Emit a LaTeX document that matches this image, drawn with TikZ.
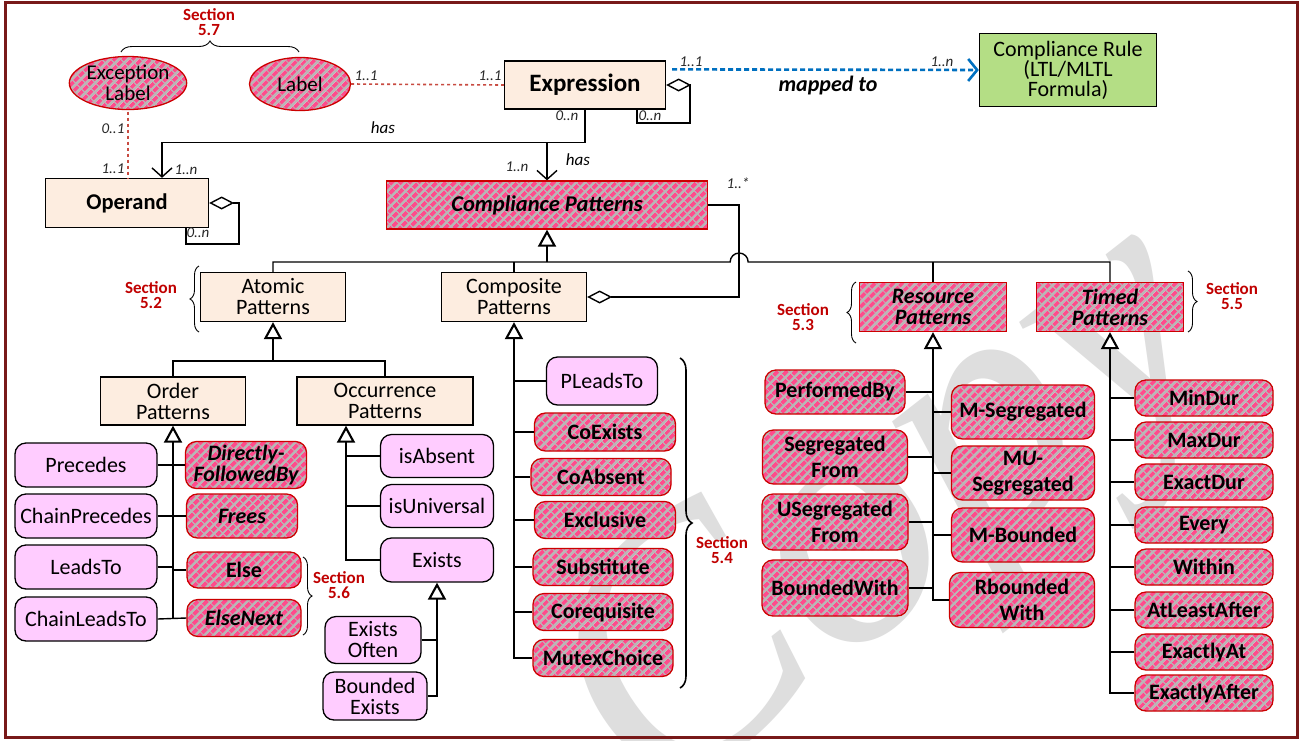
\documentclass[tikz,border=0pt]{standalone}
\usepackage{fontspec}
\setmainfont{Carlito}
\newfontfamily\wmfont{Liberation Serif}
\usetikzlibrary{arrows.meta,patterns.meta,decorations.pathreplacing,shapes.geometric,calc}
\definecolor{peach}{RGB}{253,237,224}
\definecolor{lav}{RGB}{255,204,255}
\definecolor{rulegreen}{RGB}{180,222,133}
\definecolor{spink}{RGB}{255,75,140}
\definecolor{sgray}{RGB}{185,182,182}
\definecolor{pred}{RGB}{204,0,0}
\definecolor{secred}{RGB}{192,0,0}
\definecolor{framec}{RGB}{120,25,25}
\definecolor{dred}{RGB}{200,75,65}
\definecolor{mblue}{RGB}{0,112,192}
\tikzset{
  wh/.style 2 args={minimum width=#1pt,minimum height=#2pt},
  base/.style={inner sep=0pt, align=center, line width=1.3pt},
  peachbox/.style={base, draw=black, fill=peach, font=\fontsize{22}{21}\selectfont},
  lavbox/.style={base, draw=black, fill=lav, rounded corners=11pt, font=\fontsize{22}{21}\selectfont},
  striped/.style={preaction={fill=sgray}, pattern={Lines[angle=45,distance=6.5pt,line width=4.1pt]}, pattern color=spink, draw=pred},
  patbox/.style={base, striped, rounded corners=11pt, font=\bfseries\fontsize{22}{21}\selectfont},
  patboxw/.style={base, striped, rounded corners=11pt, font=\bfseries\fontsize{22}{26}\selectfont},
  bitl/.style={font=\bfseries\itshape\fontsize{22}{21}\selectfont},
  sect/.style={text=secred, font=\bfseries\fontsize{17}{15}\selectfont, align=center, inner sep=0pt},
  mult/.style={font=\itshape\fontsize{15}{15}\selectfont, inner sep=0pt, text=black!85},
  haslbl/.style={font=\itshape\fontsize{17}{17}\selectfont, inner sep=0pt},
  conn/.style={line width=1.4pt},
  trunk/.style={line width=2.1pt},
  gen/.style={{Triangle[length=17pt,width=18pt,fill=white]}-},
  agg/.style={{Diamond[length=25pt,width=13pt,fill=white]}-},
  assoc/.style={-{Straight Barb[length=9pt,width=20pt]}},
  reddash/.style={draw=dred, line width=1.6pt, dash pattern=on 3pt off 3pt},
  bluedash/.style={draw=mblue, line width=2.6pt, dash pattern=on 5pt off 3pt},
  brc/.style={decorate, decoration={brace, amplitude=#1}, line width=0.9pt},
}
\begin{document}
\begin{tikzpicture}[x=1pt,y=-1pt]
\fill[white] (0,0) rectangle (1307,740);
\useasboundingbox (0,0) rectangle (1307,740);
% watermark
\node[rotate=38, text=black!13, font=\wmfont\itshape\fontsize{350}{350}\selectfont, inner sep=0pt] (wm) at (895,525) {Copy};
\draw[line width=3pt, draw=framec] (5,2.5) rectangle (1297.5,737.5);

% ---- top nodes
\node[ellipse, base, striped, wh={110}{53}, font=\fontsize{21}{21}\selectfont] (exc) at (128,83) {Exception\\Label};
\node[ellipse, base, striped, wh={101}{53}, font=\fontsize{21}{21}\selectfont] (lab) at (300,84) {Label};
\node[peachbox, wh={161}{48}, font=\bfseries\fontsize{25}{25}\selectfont] (expr) at (585,85) {Expression};
\node[base, draw=black, fill=rulegreen, wh={177}{73}, font=\fontsize{22}{20}\selectfont] (rule) at (1068,70) {Compliance Rule\\(LTL/MLTL\\Formula)};
\node[peachbox, wh={163}{49}, font=\bfseries\fontsize{22.5}{22}\selectfont] (operand) at (127,203) {Operand};
\node[base, striped, wh={321}{48}, font=\bfseries\itshape\fontsize{22.5}{22}\selectfont] (cp) at (547,205) {Compliance Patterns};

% ---- level 2
\node[peachbox, wh={145}{49}] (atomic) at (273,297) {Atomic\\Patterns};
\node[peachbox, wh={145}{49}] (composite) at (514,297) {Composite\\Patterns};
\node[base, striped, bitl, wh={147}{49}] (resource) at (933,307) {Resource\\Patterns};
\node[base, striped, bitl, wh={147}{49}] (timed) at (1110,307) {Timed\\Patterns};

% ---- level 3
\node[peachbox, wh={145}{48}] (order) at (173,401) {Order\\Patterns};
\node[peachbox, wh={176}{48}] (occur) at (385,401) {Occurrence\\Patterns};

% ---- order leaves
\node[lavbox, wh={142}{44}] (prec) at (86,465) {Precedes};
\node[lavbox, wh={142}{44}] (cprec) at (86,516) {ChainPrecedes};
\node[lavbox, wh={142}{44}] (leads) at (86,567) {LeadsTo};
\node[lavbox, wh={142}{44}] (cleads) at (86,619) {ChainLeadsTo};
\node[patbox, bitl, wh={121}{47}] (dfb) at (246,465) {Directly-\\FollowedBy};
\node[patbox, bitl, wh={111}{44}] (frees) at (242,516) {Frees};
\node[patbox, wh={114}{36}] (else) at (244,570) {Else};
\node[patbox, bitl, wh={114}{37}] (elsenext) at (244,618) {ElseNext};

% ---- occurrence leaves
\node[lavbox, wh={113}{43}] (isabs) at (437,456) {isAbsent};
\node[lavbox, wh={113}{43}] (isuni) at (437,506) {isUniversal};
\node[lavbox, wh={113}{44}] (exists) at (437,560) {Exists};
\node[lavbox, wh={96}{47}] (eoften) at (373,640) {Exists\\Often};
\node[lavbox, wh={104}{48}] (bexists) at (375,696) {Bounded\\Exists};

% ---- composite leaves
\node[lavbox, wh={111}{48}] (pleads) at (602,381) {PLeadsTo};
\node[patbox, wh={141}{38}] (coex) at (605,432) {CoExists};
\node[patbox, wh={140}{37}] (coabs) at (601,477) {CoAbsent};
\node[patbox, wh={141}{37}] (excl) at (605,520) {Exclusive};
\node[patbox, wh={140}{37}] (subst) at (603,567) {Substitute};
\node[patbox, wh={140}{37}] (coreq) at (603,612) {Corequisite};
\node[patbox, wh={140}{37}] (mutex) at (603,658) {MutexChoice};

% ---- resource leaves
\node[patbox, wh={140}{44}] (perf) at (835,392) {PerformedBy};
\node[patboxw, wh={145}{54}] (segf) at (835,457) {Segregated\\From};
\node[patboxw, wh={146}{56}] (usegf) at (835,522) {USegregated\\From};
\node[patboxw, wh={146}{56}] (bwith) at (835,588) {BoundedWith};
\node[patboxw, wh={143}{54}] (mseg) at (1023,412) {M-Segregated};
\node[patboxw, wh={143}{54}] (museg) at (1023,473) {M\textit{U}-\\Segregated};
\node[patboxw, wh={143}{54}] (mbound) at (1023,535) {M-Bounded};
\node[patboxw, wh={145}{55}] (rbound) at (1022,600) {Rbounded\\With};

% ---- timed leaves
\node[patbox, wh={138}{36}] (mindur) at (1204,398) {MinDur};
\node[patbox, wh={138}{36}] (maxdur) at (1204,440) {MaxDur};
\node[patbox, wh={138}{36}] (exdur) at (1204,482) {ExactDur};
\node[patbox, wh={138}{36}] (every) at (1204,525) {Every};
\node[patbox, wh={138}{36}] (within) at (1204,567) {Within};
\node[patbox, wh={138}{36}] (atleast) at (1204,610) {AtLeastAfter};
\node[patbox, wh={138}{36}] (exat) at (1204,652) {ExactlyAt};
\node[patbox, wh={138}{36}] (exafter) at (1204,693) {ExactlyAfter};

% ---- section labels
\node[sect] (s57) at (209,22) {Section\\5.7};
\node[sect] (s52) at (151,295) {Section\\5.2};
\node[sect] (s56) at (339,585) {Section\\5.6};
\node[sect] (s54) at (722,550) {Section\\5.4};
\node[sect] (s53) at (803,317) {Section\\5.3};
\node[sect] (s55) at (1232,296) {Section\\5.5};

% ---- braces
\draw[brc=11pt] (121,52) -- (299,52);
\draw[brc=9pt] (199,332) -- (199,266);
\draw[brc=9pt] (303,557) -- (303,635);
\draw[brc=12pt, line width=1.6pt] (680,358) -- (680,688);
\draw[brc=9pt] (856,343) -- (856,282);
\draw[brc=9pt] (1188,271) -- (1188,332);

% ---- coordinates
\coordinate (busy) at (0,262);
\coordinate (lvl3) at (0,361);
\coordinate (hasj) at ($(expr.south)+(0,33)$);
\coordinate (cpr) at ($(cp.east)+(31,0)$);
\coordinate (occT) at ($(occur.south)+(-39,0)$);

% ---- top connectors
\draw[reddash] (lab.east) -- (expr.west);
\draw[reddash] (exc.south) -- (exc.south |- operand.north);
\draw[bluedash, -{Straight Barb[length=9pt,width=22pt]}] ($(expr.north east)+(6,9)$) -- (rule.west);
\draw[conn, assoc] (expr.south) -- (hasj) -| ($(operand.north)+(35,0)$);
\draw[conn, assoc] (hasj -| cp.north) -- (cp.north);
\draw[conn, agg] (expr.east) -- ++(24,0) -- ++(0,38) -| ($(expr.south)+(52,0)$);
\draw[conn, agg] (operand.east) -- ++(30,0) -- ++(0,41) -| ($(operand.south)+(59,0)$);

% ---- bus
\draw[trunk, gen] (cp.south) -- (cp.south |- busy);
\draw[conn] (atomic.north) -- (atomic.north |- busy) -- ($(cpr |- busy)+(-9,0)$) arc[start angle=180, end angle=360, radius=9] -- (timed.north |- busy) -- (timed.north);
\draw[conn] (composite.north) -- (composite.north |- busy);
\draw[conn] (resource.north) -- (resource.north |- busy);
\draw[conn, agg] (composite.east) -- (cpr |- composite.east) -- (cpr) -- (cp.east);

% ---- atomic
\draw[trunk, gen] (atomic.south) -- (atomic.south |- lvl3);
\draw[conn] (order.north) |- (occur.north |- lvl3) -- (occur.north);

% ---- order
\draw[trunk, gen] (order.south) -- (order.south |- cleads.east);
\draw[conn] (prec.east) -- (dfb.west);
\draw[conn] (cprec.east) -- (frees.west);
\draw[conn] (leads.east) -- (leads.east -| order.south);
\draw[conn] (else.west) -- (else.west -| order.south);
\draw[conn] (cleads.east) -- (elsenext.west);

% ---- occurrence
\draw[trunk, gen] (occT) |- (exists.west);
\draw[conn] (isabs.west) -- (isabs.west -| occT);
\draw[conn] (isuni.west) -- (isuni.west -| occT);
\draw[trunk, gen] (exists.south) |- (bexists.east);
\draw[conn] (eoften.east) -- (eoften.east -| exists.south);

% ---- composite
\draw[trunk, gen] (composite.south) |- (mutex.west);
\foreach \n in {pleads,coex,coabs,excl,subst,coreq}
  \draw[conn] (\n.west) -- (\n.west -| composite.south);

% ---- resource
\draw[trunk, gen] (resource.south) |- (rbound.west);
\foreach \n in {perf,segf,usegf,bwith}
  \draw[conn] (\n.east) -- (\n.east -| resource.south);
\foreach \n in {mseg,museg,mbound}
  \draw[conn] (\n.west) -- (\n.west -| resource.south);

% ---- timed
\draw[trunk, gen] (timed.south) |- (exafter.west);
\foreach \n in {mindur,maxdur,exdur,every,within,atleast,exat}
  \draw[conn] (\n.west) -- (\n.west -| timed.south);

% ---- multiplicities and labels
\node[mult] (m1) at (366,76) {1..1};
\node[mult] (m2) at (490,76) {1..1};
\node[mult] (m3) at (691,62) {1..1};
\node[mult] (m4) at (942,62) {1..n};
\node[font=\bfseries\itshape\fontsize{22}{22}\selectfont, inner sep=0pt] (mapped) at (828,86) {mapped to};
\node[mult] (m5) at (567,116) {0..n};
\node[mult] (m6) at (650,116) {0..n};
\node[mult] (m7) at (113,129) {0..1};
\node[mult] (m8) at (113,169) {1..1};
\node[mult] (m9) at (186,170) {1..n};
\node[mult] (m10) at (198,233) {0..n};
\node[haslbl] (has1) at (383,128) {has};
\node[haslbl] (has2) at (578,160) {has};
\node[mult] (m11) at (517,167) {1..n};
\node[mult] (m12) at (738,183) {1..*};
\end{tikzpicture}
\end{document}
